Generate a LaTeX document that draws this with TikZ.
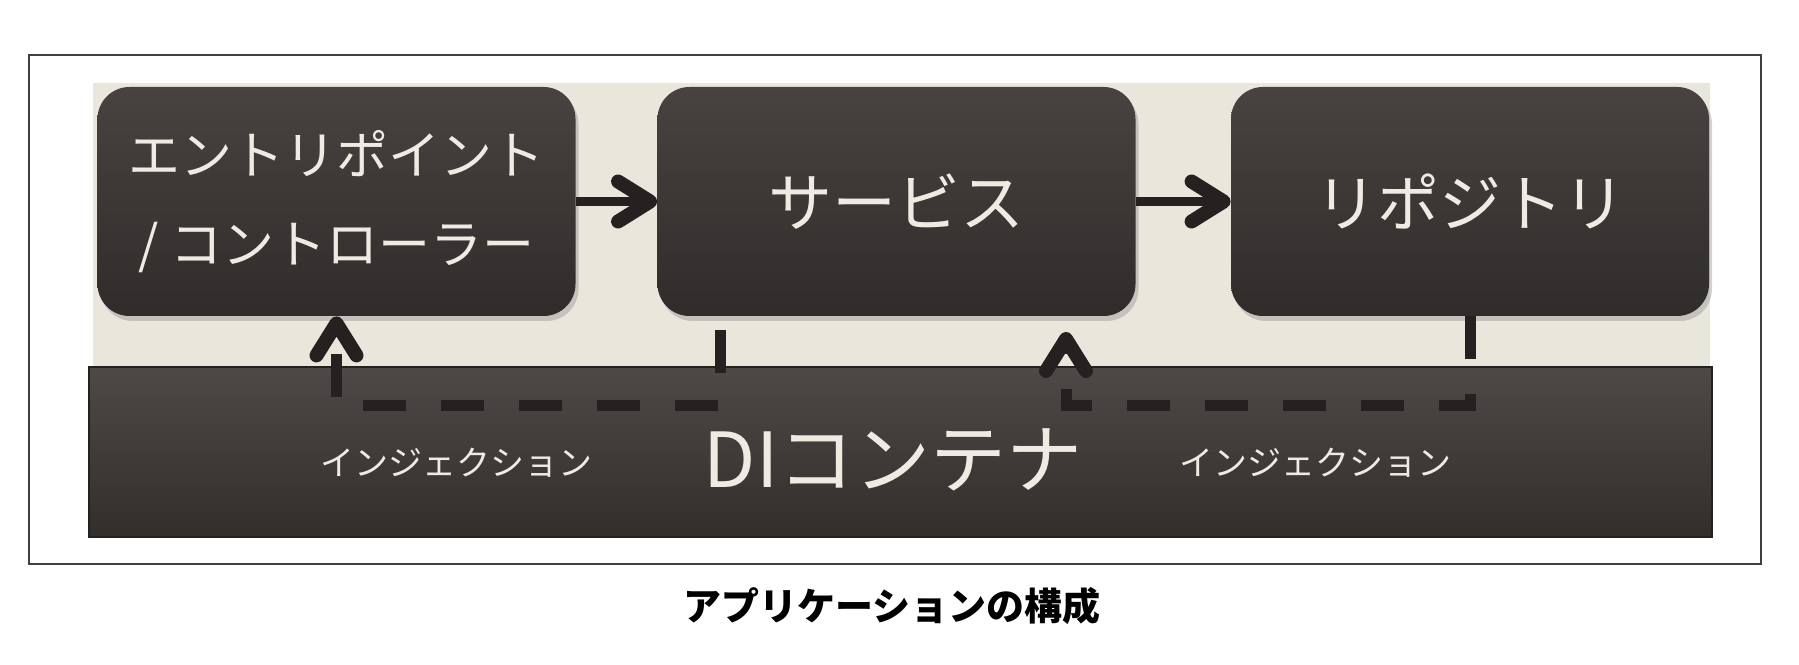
\documentclass[tikz,border=0pt]{standalone}
\usepackage{fontspec}
\setmainfont{Noto Sans CJK JP}
\usetikzlibrary{arrows.meta,shadows}
\definecolor{paper}{RGB}{238,236,226}
\definecolor{boxtop}{RGB}{72,67,64}
\definecolor{boxbot}{RGB}{48,44,43}
\definecolor{ditop}{RGB}{78,73,70}
\definecolor{dibot}{RGB}{50,46,44}
\definecolor{panel}{RGB}{233,230,219}
\definecolor{ink}{RGB}{36,33,32}
\begin{document}
\begin{tikzpicture}[x=0.5pt,y=0.5pt,>={Straight Barb[length=16pt,width=20pt,line width=7pt,round]},
	block/.style={rounded corners=16pt,top color=boxtop,bottom color=boxbot,text=paper,minimum width=239pt,minimum height=114.5pt,inner sep=0pt,align=center,drop shadow={shadow xshift=1.5pt,shadow yshift=-2.5pt,opacity=.35}},
	flow/.style={->,line width=4.5pt,draw=ink},
	inject/.style={->,line width=5.5pt,draw=ink,dash pattern=on 21.5pt off 17.5pt}]
	\useasboundingbox (0,0) rectangle (1799,664);
	\fill[white] (0,0) rectangle (1799,664);
	\draw[line width=1pt,black!75] (29,100) rectangle (1761,609);
	\fill[panel] (93,297) rectangle (1710,581);
	\node[top color=ditop,bottom color=dibot,draw=ink,line width=.6pt,minimum width=811.5pt,minimum height=85pt] (container) at (900.5,212) {};
	\node[text=paper,font=\fontsize{38pt}{44pt}\selectfont] (dilabel) at (893,204) {DIコンテナ};
	\node[block,font=\fontsize{26pt}{44.5pt}\selectfont] (entry) at (336.5,462.5) {エントリポイント\\/ コントローラー};
	\node[block,font=\fontsize{32pt}{38pt}\selectfont] (service) at (896.5,462.5) {サービス};
	\node[block,font=\fontsize{31pt}{38pt}\selectfont] (repo) at (1470,462.5) {リポジトリ};
	\draw[flow] (entry) -- (service);
	\draw[flow] (service) -- (repo);
	\coordinate (lane) at (0,258);
	\coordinate (svtap) at (720,334);
	\coordinate (svin) at (1066,332);
	\draw[inject] (svtap) -- (svtap |- lane) -| (entry.south);
	\draw[inject] (repo.south) -- (repo.south |- lane) -| (svin);
	\node[text=paper,font=\fontsize{17pt}{20pt}\selectfont] (injl) at (456,201) {インジェクション};
	\node[text=paper,font=\fontsize{17pt}{20pt}\selectfont] (injr) at (1315,201) {インジェクション};
	\node[font=\fontsize{19pt}{23pt}\selectfont\bfseries] (caption) at (892,58) {アプリケーションの構成};
	%\draw (container.north) node {};
\end{tikzpicture}
\end{document}
